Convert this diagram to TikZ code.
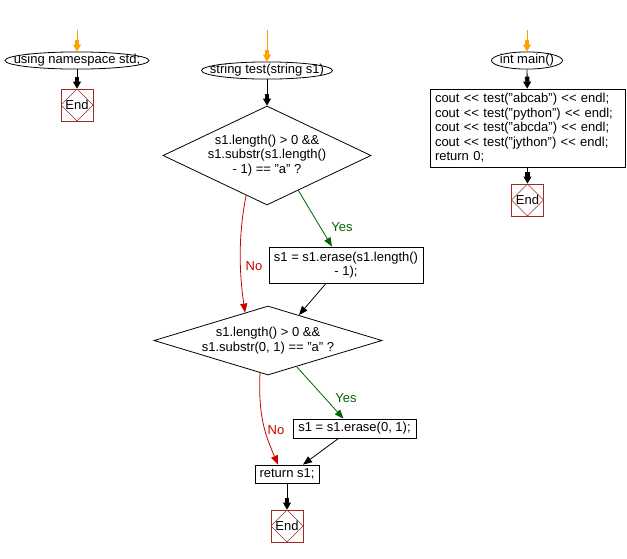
\documentclass[tikz,border=0pt]{standalone}
\usepackage{fontspec}
\setmainfont{Liberation Sans}
\usepackage{tikz}
\usetikzlibrary{positioning,arrows.meta,calc,shapes.geometric}
\definecolor{fOrange}{HTML}{FFA200}
\definecolor{fGreen}{HTML}{006400}
\definecolor{fRed}{HTML}{CC0000}
\definecolor{fEnd}{HTML}{9E2A2A}
\newcommand{\shl}{{<}{<}}

\begin{document}
\begin{tikzpicture}[x=1pt,y=-1pt,
  every node/.style={font=\fontsize{13}{14.5}\selectfont, line width=0.8pt},
  line width=0.8pt,
  flow/.style={-{Rectangle[length=5,width=4.5]Triangle[length=7,width=8]}},
  thinflow/.style={-{Triangle[length=9,width=7]}},
  startnode/.style={ellipse, draw, inner sep=0pt, inner xsep=-40pt, minimum height=17},
  boxnode/.style={rectangle, draw, inner sep=0pt},
  decision/.style={diamond, draw, inner sep=0pt, align=center},
  endnode/.style={draw=fEnd, minimum width=32, minimum height=32, inner sep=0pt,
    path picture={\draw[fEnd,line width=0.6pt] (path picture bounding box.north)
      -- (path picture bounding box.east) -- (path picture bounding box.south)
      -- (path picture bounding box.west) -- cycle;}},
  lab/.style={inner sep=1pt}
]
\useasboundingbox (0,0) rectangle (627,558);

% using namespace std;
\coordinate (ns0) at (77,30);
\node[startnode, minimum width=144] (ns) at (77,60.5) {using namespace std;};
\node[endnode] (nsend) at (77,105) {End};
\draw[flow,fOrange] (ns0) -- (ns);
\draw[flow] (ns) -- (nsend);

% string test(string s1)
\coordinate (t0) at (267,30);
\node[startnode, minimum width=131] (test) at (267,70.5) {string test(string s1)};
\node[decision, aspect=2.1, minimum width=208, minimum height=99] (d1) at (267,155.5)
  {s1.length() > 0 \&\&\\s1.substr(s1.length()\\- 1) == "a" ?};
\node[boxnode, minimum width=154, minimum height=36, align=center] (b1) at (346,265)
  {s1 = s1.erase(s1.length()\\- 1);};
\node[decision, aspect=3.3, minimum width=228, minimum height=69] (d2) at (268,340.5)
  {s1.length() > 0 \&\&\\s1.substr(0, 1) == "a" ?};
\node[boxnode, minimum width=123, minimum height=19] (b2) at (354.5,428.5) {s1 = s1.erase(0, 1);};
\node[boxnode, minimum width=64, minimum height=18] (ret) at (287,474) {return s1;};
\node[endnode] (tend) at (287,526) {End};

\draw[flow,fOrange] (t0) -- (test);
\draw[flow] (test) -- (d1);
\draw[thinflow,fGreen] ($(d1.south)!0.3!(d1.east)$) -- ([xshift=-14pt]b1.north);
\draw[thinflow,fRed] ($(d1.south)!0.2!(d1.west)$) .. controls +(-8,40) and +(-6,-40) .. ($(d2.north)!0.2!(d2.west)$);
\draw[thinflow] ([xshift=-20pt]b1.south) -- ($(d2.north)!0.27!(d2.east)$);
\draw[thinflow,fGreen] ($(d2.south)!0.25!(d2.east)$) -- ([xshift=-11pt]b2.north);
\draw[thinflow,fRed] ($(d2.south)!0.07!(d2.west)$) .. controls +(-2,45) and +(-12,-28) .. ([xshift=-9pt]ret.north);
\draw[thinflow] ([xshift=-16pt]b2.south) -- ([xshift=16pt]ret.north);
\draw[flow] (ret) -- (tend);

\node[lab,text=fGreen] (y1) at (342,227) {Yes};
\node[lab,text=fRed] (n1) at (254,266) {No};
\node[lab,text=fGreen] (y2) at (346,398) {Yes};
\node[lab,text=fRed] (n2) at (276,430) {No};

% int main()
\coordinate (m0) at (527,30);
\node[startnode, minimum width=71] (main) at (527,60.5) {int main()};
\node[boxnode, text width=185, inner xsep=5pt, minimum height=78, align=left] (mbody) at (527.5,128)
  {cout \shl{} test("abcab") \shl{} endl;\\cout \shl{} test("python") \shl{} endl;\\cout \shl{} test("abcda") \shl{} endl;\\cout \shl{} test("jython") \shl{} endl;\\return 0;};
\node[endnode] (mend) at (527.5,200) {End};
\draw[flow,fOrange] (m0) -- (main);
\draw[flow] (main) -- (mbody);
\draw[flow] (mbody) -- (mend);
\end{tikzpicture}
\end{document}
